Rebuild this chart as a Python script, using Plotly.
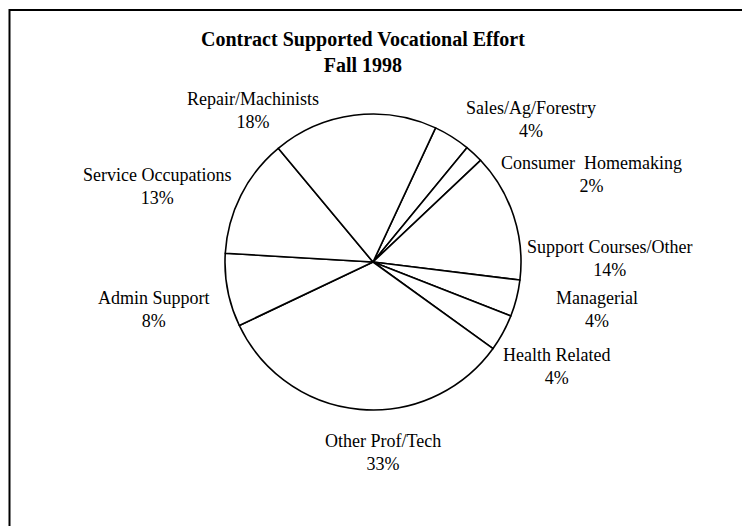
import plotly.graph_objects as go

# Slices, clockwise starting with Sales/Ag/Forestry
categories = ['Sales/Ag/Forestry', 'Consumer  Homemaking', 'Support Courses/Other',
              'Managerial', 'Health Related', 'Other Prof/Tech', 'Admin Support',
              'Service Occupations', 'Repair/Machinists']
percents = [4, 2, 14, 4, 4, 33, 8, 13, 18]

title_lines = ['Contract Supported Vocational Effort', 'Fall 1998']

W, H = 742, 526
FONT = 'Liberation Serif, Times New Roman, serif'

# label centres in pixels (layout only)
label_px = [(531, 119), (591, 174), (610, 258), (597, 309), (556, 366),
            (383, 452), (154, 309), (157, 186), (253, 110)]

# pie centre and radius in pixels
cx, cy, r = 373, 262, 148

fig = go.Figure()
fig.add_trace(go.Pie(
    labels=categories,
    values=percents,
    sort=False,
    direction='clockwise',
    rotation=25,
    textinfo='none',
    hoverinfo='label+percent',
    marker=dict(colors=['white'] * len(categories),
                line=dict(color='black', width=1.6)),
    domain=dict(x=[(cx - r) / W, (cx + r) / W],
                y=[1 - (cy + r) / H, 1 - (cy - r) / H]),
    showlegend=False,
))

total = sum(percents)
for name, val, (px, py) in zip(categories, percents, label_px):
    fig.add_annotation(
        x=px / W, y=1 - py / H, xref='paper', yref='paper',
        text=f'{name}<br>{round(val / total * 100)}%',
        showarrow=False, xanchor='center', yanchor='middle', align='center',
        font=dict(family=FONT, size=18, color='black'),
    )

fig.add_annotation(
    x=362.5 / W, y=1 - 52.5 / H, xref='paper', yref='paper',
    text='<b>' + '<br>'.join(title_lines) + '</b>',
    showarrow=False, xanchor='center', yanchor='middle', align='center',
    font=dict(family=FONT, size=20, color='black'),
)

# frame: top and left edges only
fig.add_shape(type='line', xref='paper', yref='paper',
              x0=9 / W, x1=1, y0=1 - 10 / H, y1=1 - 10 / H,
              line=dict(color='black', width=2))
fig.add_shape(type='line', xref='paper', yref='paper',
              x0=9.5 / W, x1=9.5 / W, y0=0, y1=1 - 9 / H,
              line=dict(color='black', width=2))

fig.update_layout(
    width=W, height=H,
    margin=dict(l=0, r=0, t=0, b=0),
    paper_bgcolor='white', plot_bgcolor='white',
    font=dict(family=FONT, color='black'),
)

# drop the default body margin so the figure fills the window
fig.write_html('out.html', config={'displayModeBar': False},
               post_script="document.body.style.margin='0px';")
